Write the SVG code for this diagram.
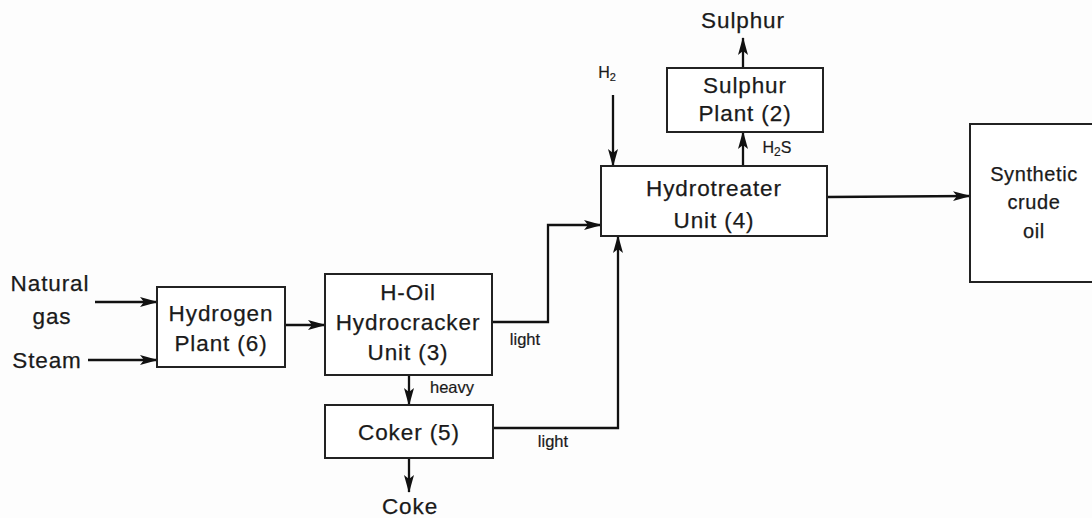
<svg xmlns="http://www.w3.org/2000/svg" width="1092" height="518" viewBox="0 0 1092 518">
<defs>
<marker id="ah" viewBox="0 0 18 12" refX="17" refY="6" markerWidth="18" markerHeight="12" markerUnits="userSpaceOnUse" orient="auto">
<path d="M0,1 L18,6 L0,11 L4,6 Z" fill="#111"/>
</marker>
<style>
.box{fill:#fff;stroke:#222;stroke-width:2}
.t{font-family:"Liberation Sans",Arial,sans-serif;font-size:22.5px;fill:#1a1a1a;text-anchor:middle;letter-spacing:0.9px;stroke:#1a1a1a;stroke-width:0.25}
.s{font-family:"Liberation Sans",Arial,sans-serif;font-size:16.5px;fill:#1a1a1a;text-anchor:middle;stroke:#1a1a1a;stroke-width:0.2}
.c{fill:none;stroke:#111;stroke-width:2.3}
</style>
</defs>
<rect width="1092" height="518" fill="#fdfdfd"/>
<g id="connectors">
<line class="c" x1="95" y1="302" x2="157" y2="302" marker-end="url(#ah)"/>
<line class="c" x1="88" y1="360" x2="157" y2="360" marker-end="url(#ah)"/>
<line class="c" x1="285" y1="325" x2="325" y2="325" marker-end="url(#ah)"/>
<polyline class="c" points="492,322 548,322 548,225 601,225" marker-end="url(#ah)"/>
<line class="c" x1="409" y1="375" x2="409" y2="405" marker-end="url(#ah)"/>
<polyline class="c" points="493,428 618,428 618,236" marker-end="url(#ah)"/>
<line class="c" x1="409" y1="458" x2="409" y2="492" marker-end="url(#ah)"/>
<line class="c" x1="613" y1="95" x2="613" y2="166" marker-end="url(#ah)"/>
<line class="c" x1="743" y1="166" x2="743" y2="132" marker-end="url(#ah)"/>
<line class="c" x1="743" y1="68" x2="743" y2="38" marker-end="url(#ah)"/>
<line class="c" x1="827" y1="197" x2="970" y2="196" marker-end="url(#ah)"/>
</g>
<g id="labels">
<text class="t" x="50" y="291">Natural</text>
<text class="t" x="52" y="324">gas</text>
<text class="t" x="47" y="368">Steam</text>
<text class="s" x="525" y="345">light</text>
<text class="s" x="452" y="393">heavy</text>
<text class="s" x="553" y="447">light</text>
<text class="t" x="410" y="514">Coke</text>
<text class="s" x="607" y="78" style="font-size:16px">H<tspan font-size="11" dy="3">2</tspan></text>
<text class="s" x="777" y="153" style="font-size:16px">H<tspan font-size="12" dy="3">2</tspan><tspan dy="-3">S</tspan></text>
<text class="t" x="743" y="28">Sulphur</text>
</g>
<g id="hydrogen-plant">
<rect class="box" x="157" y="287" width="128" height="80"/>
<text class="t" x="221" y="321">Hydrogen</text>
<text class="t" x="221" y="351">Plant (6)</text>
</g>
<g id="hoil-hydrocracker">
<rect class="box" x="325" y="274" width="167" height="101"/>
<text class="t" x="408" y="300">H-Oil</text>
<text class="t" x="408" y="330">Hydrocracker</text>
<text class="t" x="408" y="360">Unit (3)</text>
</g>
<g id="coker">
<rect class="box" x="325" y="405" width="168" height="53"/>
<text class="t" x="409" y="440">Coker (5)</text>
</g>
<g id="hydrotreater">
<rect class="box" x="601" y="166" width="226" height="70"/>
<text class="t" x="714" y="196">Hydrotreater</text>
<text class="t" x="714" y="228">Unit (4)</text>
</g>
<g id="sulphur-plant">
<rect class="box" x="667" y="68" width="156" height="64"/>
<text class="t" x="745" y="93">Sulphur</text>
<text class="t" x="745" y="121">Plant (2)</text>
</g>
<g id="synthetic-crude">
<rect class="box" x="970" y="124" width="130" height="158"/>
<text class="t" x="1034" y="181" style="font-size:20px;letter-spacing:0.6px">Synthetic</text>
<text class="t" x="1034" y="209" style="font-size:20px;letter-spacing:0.6px">crude</text>
<text class="t" x="1034" y="238" style="font-size:20px;letter-spacing:0.6px">oil</text>
</g>
</svg>
